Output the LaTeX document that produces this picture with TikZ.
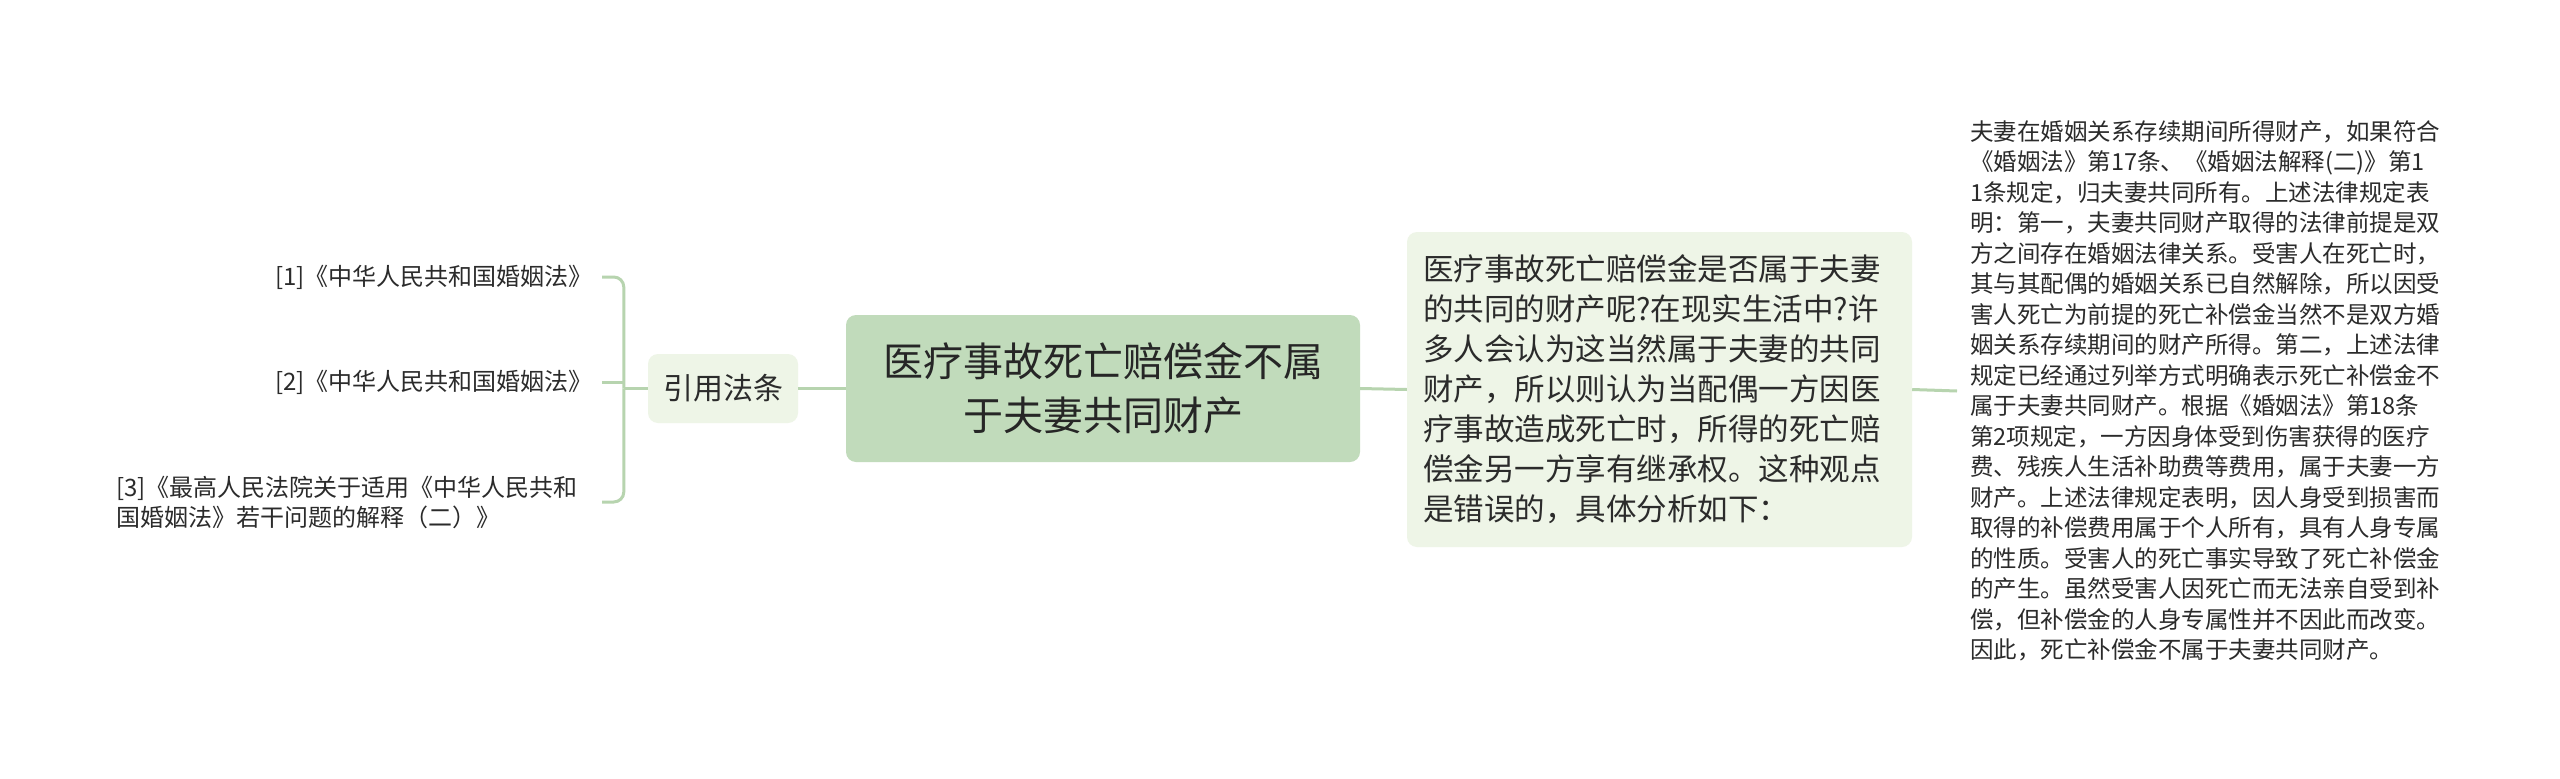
\documentclass[tikz,border=0pt]{standalone}
\usepackage{fontspec}
\setmainfont{Noto Sans CJK SC}
\definecolor{mainfill}{HTML}{C1DBBB}
\definecolor{subfill}{HTML}{EEF5E7}
\definecolor{linec}{HTML}{B7D4AF}
\definecolor{txt}{HTML}{2B2B2B}
\begin{document}
\begin{tikzpicture}[x=1pt,y=-1pt,
  conn/.style={draw=linec,line width=3pt},
  box/.style={rounded corners=10pt,inner sep=0pt,text=txt},
  leaf/.style={inner ysep=0pt,text=txt,font=\fontsize{24}{30}\selectfont}]
\useasboundingbox[fill=white] (0,0) rectangle (2560,779);
\node[box,fill=mainfill,minimum width=514pt,minimum height=147pt,align=center,
  font=\fontsize{40}{54}\selectfont,text=black!85] (main) at (1103,388.5)
  {医疗事故死亡赔偿金不属\\于夫妻共同财产};
\node[box,fill=subfill,minimum width=150pt,minimum height=69pt,
  font=\fontsize{30}{36}\selectfont] (law) at (723,388.5) {引用法条};
\node[box,fill=subfill,minimum width=505pt,minimum height=315pt,
  text width=473pt,align=left,font=\fontsize{30.5}{40}\selectfont] (desc) at (1659.5,389.5)
  {医疗事故死亡赔偿金是否属于夫妻\\的共同的财产呢?在现实生活中?许\\多人会认为这当然属于夫妻的共同\\财产，所以则认为当配偶一方因医\\疗事故造成死亡时，所得的死亡赔\\偿金另一方享有继承权。这种观点\\是错误的，具体分析如下：};
\node[anchor=west,inner xsep=13pt,inner ysep=0pt,align=left,text=txt,
  font=\fontsize{23.5}{30.5}\selectfont] (detail) at (1957,391)
  {夫妻在婚姻关系存续期间所得财产，如果符合\\《婚姻法》第17条、《婚姻法解释(二)》第1\\1条规定，归夫妻共同所有。上述法律规定表\\明：第一，夫妻共同财产取得的法律前提是双\\方之间存在婚姻法律关系。受害人在死亡时，\\其与其配偶的婚姻关系已自然解除，所以因受\\害人死亡为前提的死亡补偿金当然不是双方婚\\姻关系存续期间的财产所得。第二，上述法律\\规定已经通过列举方式明确表示死亡补偿金不\\属于夫妻共同财产。根据《婚姻法》第18条\\第2项规定，一方因身体受到伤害获得的医疗\\费、残疾人生活补助费等费用，属于夫妻一方\\财产。上述法律规定表明，因人身受到损害而\\取得的补偿费用属于个人所有，具有人身专属\\的性质。受害人的死亡事实导致了死亡补偿金\\的产生。虽然受害人因死亡而无法亲自受到补\\偿，但补偿金的人身专属性并不因此而改变。\\因此，死亡补偿金不属于夫妻共同财产。};
\node[leaf,anchor=east,inner xsep=9pt] (r1) at (602,277) {[1]《中华人民共和国婚姻法》};
\node[leaf,anchor=east,inner xsep=9pt] (r2) at (602,382) {[2]《中华人民共和国婚姻法》};
\node[leaf,anchor=east,inner xsep=24pt,align=left] (r3) at (602,502)
  {[3]《最高人民法院关于适用《中华人民共和\\国婚姻法》若干问题的解释（二）》};
\draw[conn] (main.west) -- (law.east);
\draw[conn] (main.east) -- (desc.west);
\draw[conn] (desc.east) -- (detail.west);
\coordinate (jn) at ([xshift=-24pt]law.west);
\draw[conn,rounded corners=10pt] (jn) |- (r1.east);
\draw[conn,rounded corners=10pt] (jn) |- (r3.east);
\draw[conn] (law.west) -- (jn);
\draw[conn] (jn |- r2.east) -- (r2.east);
\end{tikzpicture}
\end{document}
